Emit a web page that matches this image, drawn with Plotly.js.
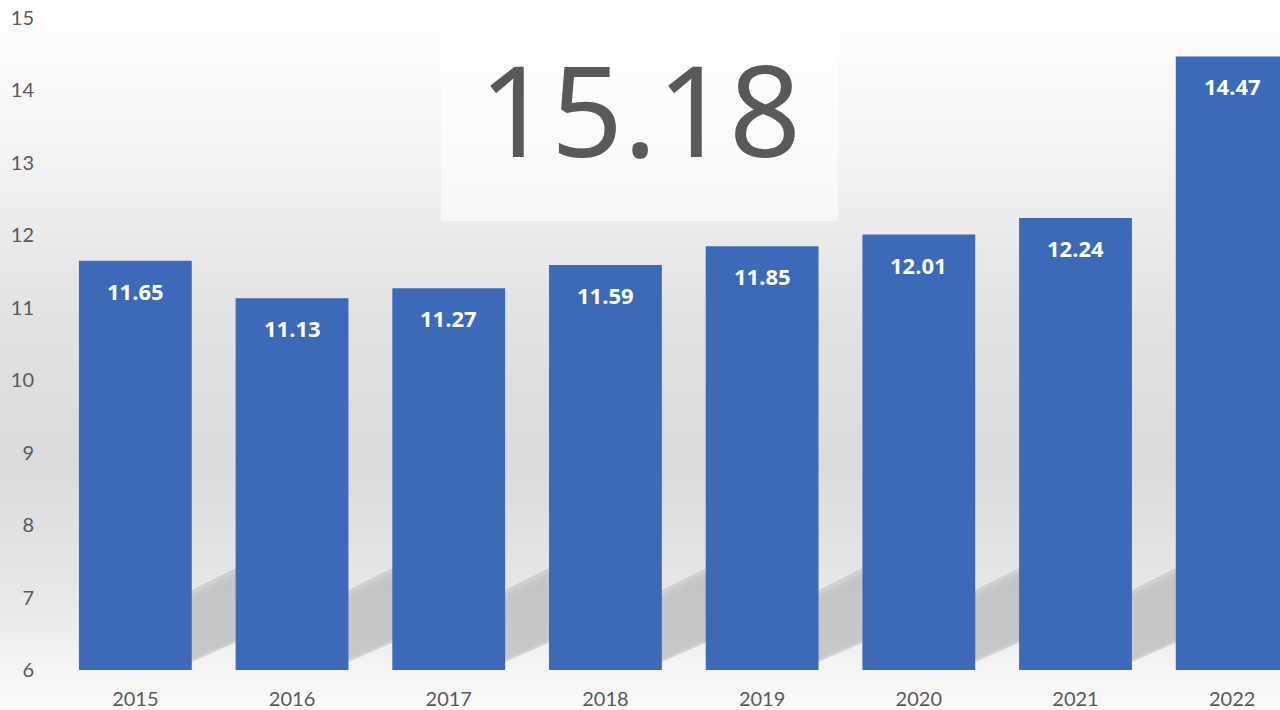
<!DOCTYPE html>
<html><head><meta charset="utf-8">
<script src="https://cdn.plot.ly/plotly-3.0.1.min.js"></script>
<style>
html,body{margin:0;padding:0;}
body{width:1280px;height:710px;background:linear-gradient(to bottom,#ffffff 0%,#f3f3f3 22%,#e2e2e2 45%,#dbdbdb 65%,#e2e2e2 76%,#e8e8e8 84%,#efefef 90%,#f5f5f5 94.4%,#fafafa 100%);}
#chart{width:1280px;height:710px;}
</style></head><body>
<div id="chart"></div>
<script>
const years = ['2015','2016','2017','2018','2019','2020','2021','2022'];
const values = [11.65, 11.13, 11.27, 11.59, 11.85, 12.01, 12.24, 14.47];
const yTicks = [6,7,8,9,10,11,12,13,14,15];
const headline = '15.18';
const axisBase = 6;

const fontFam = 'Lato, "Open Sans", "Noto Sans", sans-serif';
const barHalf = 0.36;

const trace = {
  type: 'bar', x: years, y: values.map(v => v - axisBase), base: axisBase,
  width: 2 * barHalf,
  marker: {color: '#3D69B9', line: {width: 0}},
  hoverinfo: 'none'
};

const annotations = years.map((yr, i) => ({
  x: i, y: values[i], xref: 'x', yref: 'y',
  text: '<b>' + values[i].toFixed(2) + '</b>',
  showarrow: false, yanchor: 'middle', xanchor: 'center', yshift: -30,
  font: {family: '"Open Sans", Lato, sans-serif', size: 22, color: '#ffffff'}
}));
annotations.push({
  xref: 'paper', yref: 'paper', x: 0.4767, y: 0.862,
  text: headline, showarrow: false, xanchor: 'center', yanchor: 'middle',
  font: {family: '"Noto Sans", "Open Sans", sans-serif', size: 126, color: '#595959'}
});

// soft floor shadows cast diagonally to the right of each bar
const shapes = [{
  type: 'rect', xref: 'paper', yref: 'paper', layer: 'below',
  x0: 0.314, x1: 0.6386, y0: 0.6887, y1: 1.03,
  fillcolor: 'rgba(255,255,255,0.55)', line: {width: 0}
}];
years.forEach((yr, i) => {
  const xl = i + barHalf - 0.05, xr = i + 1.05;
  const layers = [
    {d: 0.16, op: 0.22},
    {d: 0.09, op: 0.35},
    {d: 0.03, op: 0.5},
  ];
  layers.forEach(L => {
    const w = xr - xl;
    const yb0 = 6.05 + L.d * 0.4, yb1 = yb0 + w * 0.95;
    const yt0 = 7.08 - L.d, yt1 = yt0 + w * 1.08;
    shapes.push({
      type: 'path', xref: 'x', yref: 'y', layer: 'below',
      path: `M ${xl} ${yb0} L ${xr} ${yb1} L ${xr} ${yt1} L ${xl} ${yt0} Z`,
      fillcolor: 'rgba(185,185,185,' + L.op + ')', line: {width: 0}
    });
  });
});

const layout = {
  width: 1280, height: 710,
  margin: {l: 57, r: 0, t: 18, b: 40},
  paper_bgcolor: 'rgba(0,0,0,0)', plot_bgcolor: 'rgba(0,0,0,0)',
  showlegend: false,
  xaxis: {
    type: 'category', range: [-0.5, 7.305],
    showgrid: false, zeroline: false, showline: false, ticks: '',
    ticklabelstandoff: 15,
    tickfont: {family: fontFam, size: 20, color: '#595959'}
  },
  yaxis: {
    range: [6, 15], tickvals: yTicks, ticktext: yTicks.map(String),
    showgrid: false, zeroline: false, showline: false, ticks: '',
    ticklabelstandoff: 22,
    tickfont: {family: fontFam, size: 20, color: '#595959'}
  },
  shapes: shapes,
  annotations: annotations
};

Plotly.newPlot('chart', [trace], layout, {staticPlot: true, displayModeBar: false});
</script>
</body></html>
